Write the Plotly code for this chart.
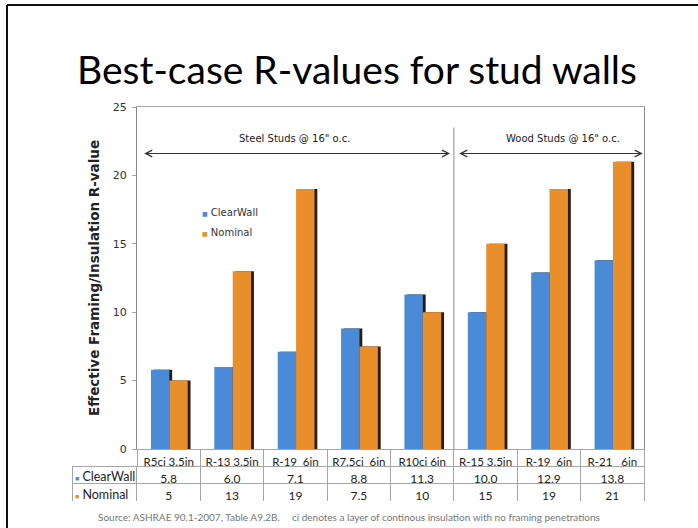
import plotly.graph_objects as go

# ── Datos ───────────────────────────────────────────────────────
categories = ["R5ci 3.5in", "R-13 3.5in", "R-19&nbsp; 6in", "R7.5ci&nbsp; 6in",
              "R10ci 6in", "R-15 3.5in", "R-19&nbsp; 6in", "R-21&nbsp;&nbsp; 6in"]
clearwall = [5.8, 6.0, 7.1, 8.8, 11.3, 10.0, 12.9, 13.8]
nominal = [5, 13, 19, 7.5, 10, 15, 19, 21]
clearwall_txt = ["5.8", "6.0", "7.1", "8.8", "11.3", "10.0", "12.9", "13.8"]
nominal_txt = ["5", "13", "19", "7.5", "10", "15", "19", "21"]
y_ticks = [0, 5, 10, 15, 20, 25]

# ── Estilo ──────────────────────────────────────────────────────
W, H = 698, 528
BLUE = "#4a8ad6"
ORANGE = "#e88f2c"
SHADOW = "#2b1c10"
GRID = "#a6a6a6"
VERDANA = "DejaVu Sans"
CALIBRI = "Lato"

xs = list(range(len(categories)))


def px_x(p):
    return p / W


def px_y(p):
    return 1 - p / H


fig = go.Figure()

bar_w = 0.29
for name, vals, col, off in [("ClearWall", clearwall, BLUE, -0.28),
                             ("Nominal", nominal, ORANGE, 0.01)]:
    # sombra oscura a la derecha de cada barra
    fig.add_trace(go.Bar(x=xs, y=vals, width=bar_w, offset=off + 0.045,
                         marker=dict(color=SHADOW, line_width=0),
                         showlegend=False, hoverinfo="skip"))
    fig.add_trace(go.Bar(x=xs, y=vals, width=bar_w, offset=off, name=name,
                         marker=dict(color=col, line_width=0),
                         showlegend=False))

# tabla de datos (fila ClearWall como encabezado, Nominal como celdas);
# la primera columna se rotula con anotaciones para poder colorear el cuadrito
n = len(categories)
fig.add_trace(go.Table(
    domain=dict(x=[px_x(72), px_x(644)], y=[px_y(501), px_y(466)]),
    columnwidth=[65] + [63.4] * n,
    header=dict(
        values=[""] + clearwall_txt,
        align="center",
        line=dict(color=GRID, width=1),
        fill_color="white",
        font=dict(family=CALIBRI, size=12, color="#222"),
        height=17,
    ),
    cells=dict(
        values=[[""]] + [[v] for v in nominal_txt],
        align="center",
        line=dict(color=GRID, width=1),
        fill_color="white",
        font=dict(family=CALIBRI, size=12, color="#222"),
        height=18,
    ),
))

key = '<span style="color:{};font-size:7px">■</span> {}'
for yy, name, col in [(476.5, "ClearWall", BLUE), (494, "Nominal", ORANGE)]:
    fig.add_annotation(x=px_x(73), y=px_y(yy), xref="paper", yref="paper",
                       xanchor="left", yanchor="middle", showarrow=False,
                       text=key.format(col, name),
                       font=dict(family=CALIBRI, size=12.5, color="#222"))

# leyenda
for yy, name, col in [(213, "ClearWall", BLUE), (232, "Nominal", ORANGE)]:
    fig.add_annotation(x=px_x(200), y=px_y(yy), xref="paper", yref="paper",
                       xanchor="left", yanchor="middle", showarrow=False,
                       text='<span style="color:{};font-size:6px">■</span> {}'.format(col, name),
                       font=dict(family=VERDANA, size=10, color="#333"))

# ── Anotaciones dentro del gráfico ──────────────────────────────
fig.add_shape(type="line", xref="x", yref="y", x0=4.5, x1=4.5, y0=0, y1=23.5,
              line=dict(color="#8c8c8c", width=1))
for x0, x1 in [(-0.41, 4.44), (4.56, 7.48)]:
    fig.add_annotation(x=x1, y=21.6, ax=x0, ay=21.6, xref="x", yref="y",
                       axref="x", ayref="y", text="", showarrow=True,
                       arrowside="end+start", arrowhead=5, arrowsize=1.3,
                       arrowwidth=1, arrowcolor="#333")
fig.add_annotation(x=1.99, y=22.7, xref="x", yref="y", text='Steel Studs @ 16" o.c.',
                   showarrow=False, font=dict(family=VERDANA, size=10, color="#222"))
fig.add_annotation(x=6.22, y=22.7, xref="x", yref="y", text='Wood Studs @ 16" o.c.',
                   showarrow=False, font=dict(family=VERDANA, size=10, color="#222"))

# título de la diapositiva
fig.add_annotation(x=px_x(75), y=px_y(69), xref="paper", yref="paper",
                   xanchor="left", yanchor="middle", showarrow=False,
                   text="Best-case R-values for stud walls",
                   font=dict(family=CALIBRI, size=39, color="#000"))

# fuente
fig.add_annotation(x=px_x(96), y=px_y(517), xref="paper", yref="paper",
                   xanchor="left", yanchor="middle", showarrow=False,
                   text="Source: ASHRAE 90.1-2007, Table A9.2B.",
                   font=dict(family=CALIBRI, size=10, color="#777"))
fig.add_annotation(x=px_x(290), y=px_y(517), xref="paper", yref="paper",
                   xanchor="left", yanchor="middle", showarrow=False,
                   text="ci denotes a layer of continous insulation with no framing penetrations",
                   font=dict(family=CALIBRI, size=10, color="#777"))

# borde de la diapositiva
for x0, y0, x1, y1 in [(px_x(7), px_y(5), 1, px_y(5)), (px_x(7), px_y(5), px_x(7), 0)]:
    fig.add_shape(type="line", xref="paper", yref="paper", x0=x0, y0=y0, x1=x1, y1=y1,
                  line=dict(color="#111", width=2))

fig.update_layout(
    width=W, height=H,
    margin=dict(l=0, r=0, t=0, b=0, autoexpand=False),
    paper_bgcolor="white",
    plot_bgcolor="white",
    barmode="overlay",
    showlegend=False,
    xaxis=dict(
        domain=[px_x(137), px_x(644)],
        range=[-0.5, n - 0.5],
        tickvals=xs, ticktext=categories,
        ticks="", showgrid=False, zeroline=False,
        showline=True, linecolor=GRID, mirror=True,
        tickfont=dict(family=CALIBRI, size=11.5, color="#222"),
        ticklabelstandoff=2, automargin=False,
        minor=dict(tickvals=[i - 0.5 for i in range(n + 1)],
                   ticks="outside", ticklen=17, tickcolor=GRID, showgrid=False),
    ),
    yaxis=dict(
        domain=[px_y(449), px_y(107)],
        range=[0, 25],
        tickvals=y_ticks,
        ticks="outside", ticklen=4, tickcolor=GRID,
        ticklabelstandoff=3, automargin=False,
        showgrid=False, zeroline=False,
        showline=True, linecolor="#8c8c8c", mirror=True,
        tickfont=dict(family=VERDANA, size=11, color="#333"),
        title=dict(text="<b>Effective Framing/Insulation R-value</b>", standoff=10,
                   font=dict(family=VERDANA, size=13.5, color="#222")),
    ),
)

fig.write_html("out.html", config=dict(displayModeBar=False),
               post_script="document.body.style.margin='0px';")
